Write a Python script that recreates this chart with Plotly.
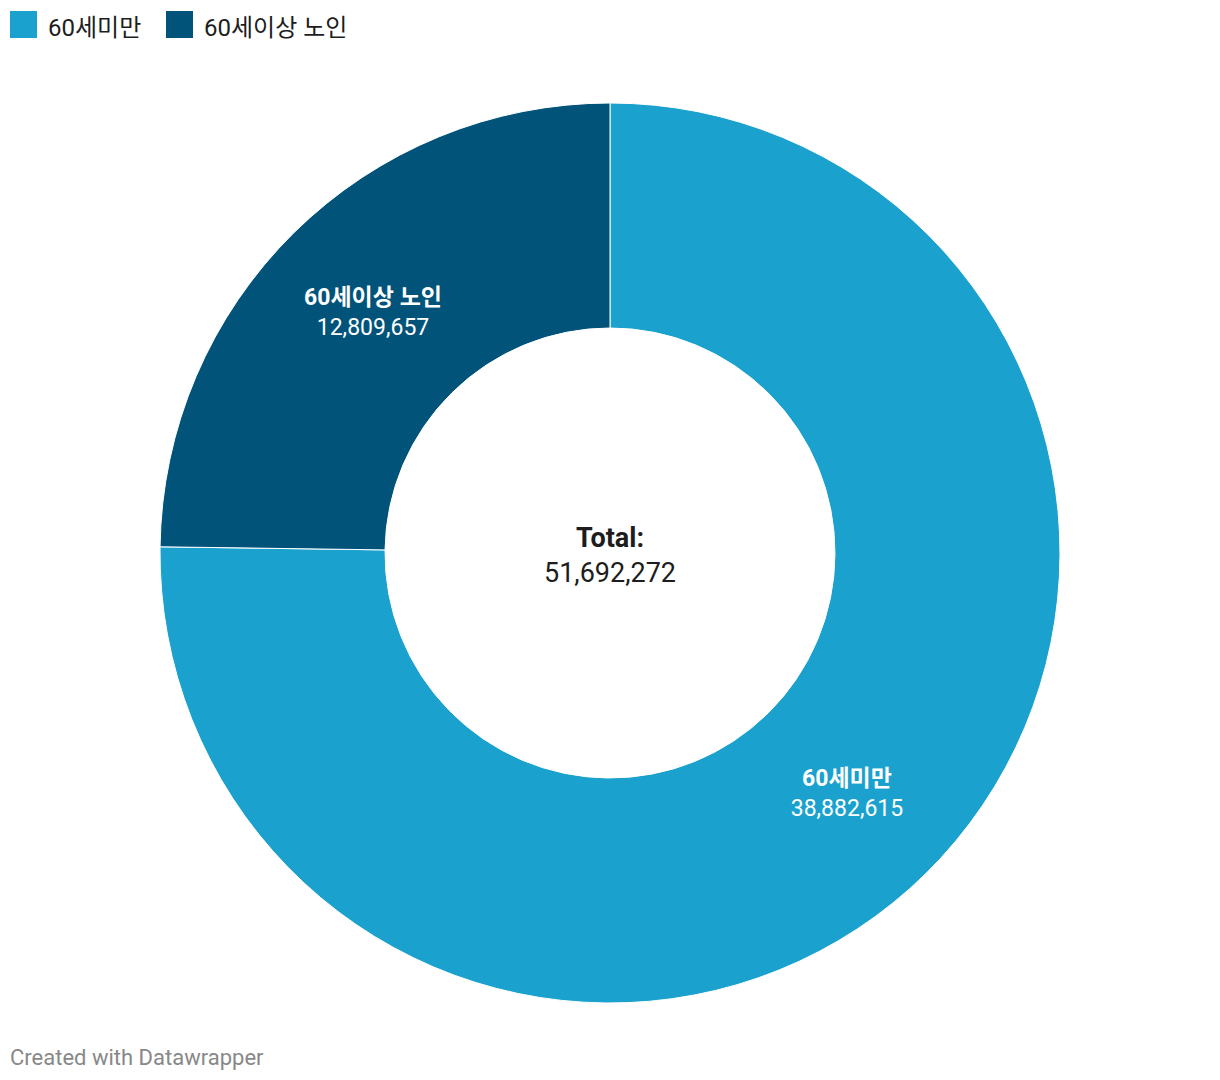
import plotly.graph_objects as go

categories = ["60세미만", "60세이상 노인"]
values = [38882615, 12809657]
colors = ["#1aa1ce", "#01537a"]

FONT = "Roboto, 'Noto Sans CJK KR', sans-serif"
W, H = 1220, 1080
total = sum(values)

fig = go.Figure()
fig.add_trace(go.Pie(
    labels=categories,
    values=values,
    hole=0.5,
    sort=False,
    direction="clockwise",
    rotation=0,
    marker=dict(colors=colors, line=dict(color="white", width=1)),
    textposition="inside",
    insidetextorientation="horizontal",
    texttemplate="<b>%{label}</b><br>%{value:,}",
    textfont=dict(family=FONT, size=23, color="white"),
    domain=dict(x=[160 / W, 1060 / W], y=[1 - 1003 / H, 1 - 103 / H]),
    showlegend=False,
    hoverinfo="label+value",
))

# center total
fig.add_annotation(
    x=610 / W, y=1 - 555 / H, xref="paper", yref="paper",
    text=f"<b>Total:</b><br>{total:,}",
    showarrow=False, font=dict(family=FONT, size=27, color="#1d1d1d"),
    align="center",
)

# custom legend
lx = [10, 166]
for i, (cat, col) in enumerate(zip(categories, colors)):
    x0 = lx[i]
    fig.add_shape(type="rect", xref="paper", yref="paper",
                  x0=x0 / W, x1=(x0 + 27) / W, y0=1 - 38 / H, y1=1 - 11 / H,
                  fillcolor=col, line=dict(width=0))
    fig.add_annotation(x=(x0 + 36) / W, y=1 - 28 / H, xref="paper", yref="paper",
                       text=cat, showarrow=False, xanchor="left", yanchor="middle",
                       font=dict(family=FONT, size=24, color="#1d1d1d"))

fig.add_annotation(x=8 / W, y=1 - 1057 / H, xref="paper", yref="paper",
                   text="Created with Datawrapper", showarrow=False,
                   xanchor="left", yanchor="middle",
                   font=dict(family=FONT, size=22, color="#888888"))

fig.update_layout(
    width=W, height=H,
    margin=dict(l=0, r=0, t=0, b=0),
    paper_bgcolor="white", plot_bgcolor="white",
    font=dict(family=FONT),
)

fig.write_html("out.html")
